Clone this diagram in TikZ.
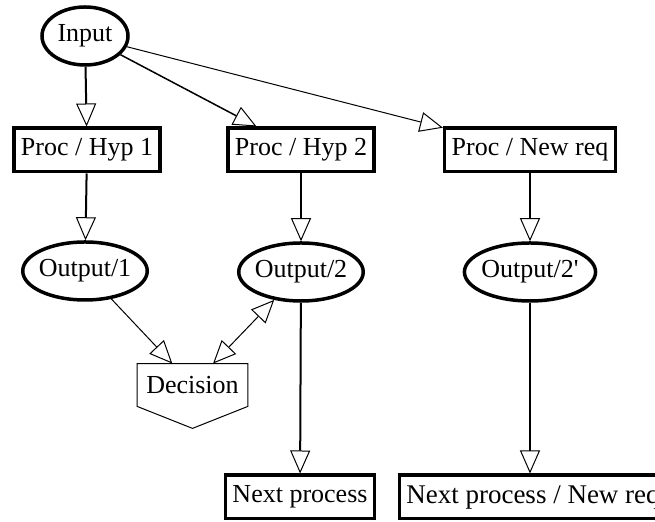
\documentclass[tikz,border=0pt]{standalone}
\usepackage{fontspec}
\setmainfont{Liberation Serif}
\usetikzlibrary{arrows.meta, shapes.geometric}

\begin{document}
\begin{tikzpicture}[x=0.5pt, y=-0.5pt,
  >={Triangle[open, length=11.5pt, width=10pt, line width=0.5pt]},
  every node/.style={font=\fontsize{13pt}{15pt}\selectfont},
  procbox/.style={draw, rectangle, line width=1.75pt, inner xsep=3.5pt, minimum height=21.75pt},
  databox/.style={draw, ellipse, line width=1.75pt, inner xsep=-1.1pt, minimum height=29pt},
  flow/.style={->, line width=1pt},
  link/.style={->, line width=0.5pt}]
  \useasboundingbox (0,0) rectangle (655,522);

  \node[databox, minimum width=43pt] (input) at (85,36) {Input};
  \node[procbox] (hyp1) at (87,150) {Proc / Hyp 1};
  \node[procbox] (hyp2) at (301,150) {Proc / Hyp 2};
  \node[procbox] (newreq) at (530,150) {Proc / New req};
  \node[databox] (out1) at (85,271) {Output/1};
  \node[databox] (out2) at (301,272) {Output/2};
  \node[databox] (out2b) at (530,272) {Output/2\textquotesingle};
  \node[procbox] (next) at (300,497) {Next process};
  \node[procbox, font=\fontsize{13.5pt}{16pt}\selectfont] (nextnew) at (533,497) {Next process / New req};

  % decision: flat top, pointed bottom
  \node[minimum width=55pt, minimum height=21pt, inner sep=0] (decision) at (192.5,385) {Decision};
  \draw[line width=0.5pt] (decision.north west) -- (decision.north east) -- (decision.south east)
    -- ([yshift=-11pt]decision.south) -- (decision.south west) -- cycle;

  \draw[flow] (input) -- (hyp1);
  \draw[->, line width=0.75pt] (input) -- (hyp2);
  \draw[link] (input) -- (newreq);
  \foreach \a/\b in {hyp1/out1, hyp2/out2, newreq/out2b, out2/next}
    \draw[flow] (\a) -- (\b);
  \draw[flow] (out2b) -- (out2b |- nextnew.north);
  \draw[link] (out1) -- (decision);
  \draw[link, <->] (decision) -- (out2);
\end{tikzpicture}
\end{document}
